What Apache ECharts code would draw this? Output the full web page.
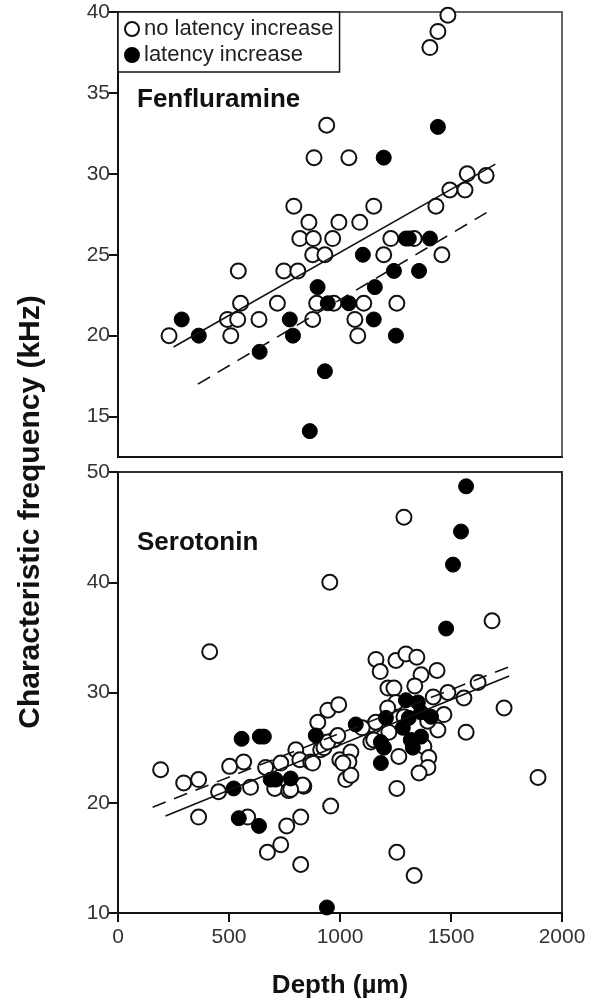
<!DOCTYPE html>
<html style="height: 100%">

<head>
    <meta charset="utf-8" />
    <title>Fenfluramine / Serotonin</title>
    <script src="https://cdn.jsdelivr.net/npm/echarts@6/dist/echarts.min.js"></script>
</head>

<body style="height: 100%; margin: 0; overflow: hidden; background: #fff">
    <div id="container" style="width: 600px; height: 1002px"></div>
    <script>
        // depth (um), characteristic frequency (kHz)
        var fenOpen = [
            [230, 20], [508, 20], [493, 21], [539, 21], [552, 22], [542, 24], [635, 21], [718, 22],
            [747, 24], [810, 24], [877, 21], [895, 22], [972, 22], [819, 26], [880, 26], [967, 26],
            [877, 25], [932, 25], [792, 28], [860, 27], [995, 27], [883, 31], [940, 33], [1040, 31],
            [1486, 39.8], [1441, 38.8], [1405, 37.8], [1152, 28], [1089, 27], [1573, 30], [1658, 29.9],
            [1495, 29], [1563, 29], [1432, 28], [1229, 26], [1334, 26], [1197, 25], [1459, 25],
            [1107, 22], [1256, 22], [1067, 21], [1080, 20]
        ];
        var fenFilled = [
            [287, 21], [364, 20], [638, 19], [774, 21], [788, 20], [932, 17.8], [864, 14.1], [899, 23],
            [945, 22], [1040, 22], [1103, 25], [1243, 24], [1356, 24], [1157, 23], [1152, 21],
            [1252, 20], [1297, 26], [1310, 26], [1405, 26], [1197, 31], [1441, 32.9]
        ];
        var fenSolid = [[250, 19.3], [1700, 30.6]];
        var fenDashed = [[360, 17], [1660, 27.6]];

        var serOpen = [
            [192, 23], [296, 21.8], [363, 22.1], [363, 18.7], [453, 21], [503, 23.3], [566, 23.7],
            [597, 21.4], [584, 18.7], [665, 23.2], [673, 15.5], [733, 16.2], [760, 17.9], [823, 18.7],
            [823, 14.4], [706, 21.3], [769, 21.1], [837, 21.5], [733, 23.6], [801, 24.8], [819, 23.9],
            [868, 23.7], [900, 27.3], [945, 28.4], [994, 28.9], [958, 19.7], [999, 23.9], [1026, 22.1],
            [913, 24.8], [972, 25.7], [954, 40], [413, 33.7], [1288, 45.9], [1685, 36.5], [1162, 33],
            [1181, 31.9], [1252, 32.9], [1297, 33.5], [1346, 33.2], [1365, 31.6], [1437, 32],
            [1216, 30.4], [1243, 30.4], [1486, 30], [1558, 29.5], [1622, 30.9], [1739, 28.6],
            [1568, 26.4], [1892, 22.3], [1256, 21.3], [1256, 15.5], [1334, 13.4], [1152, 27],
            [1139, 25.5], [1049, 24.6], [1040, 23.7], [1049, 22.5], [1013, 23.6], [877, 23.6],
            [832, 21.6], [778, 21.2], [928, 25], [945, 25.5], [990, 26.1], [1252, 29.1], [1468, 28],
            [1441, 26.6], [1288, 27.8], [1220, 26.4], [1378, 25.1], [1400, 24.1], [1396, 23.2],
            [1356, 22.7], [1161, 27.3], [1152, 25.7], [1265, 24.2], [1337, 30.6], [1420, 29.6],
            [1100, 26.8], [1215, 28.6], [1395, 27.4]
        ];
        var serFilled = [
            [557, 25.8], [639, 26], [657, 26], [521, 21.3], [544, 18.6], [635, 17.9], [688, 22.1],
            [778, 22.2], [891, 26.1], [1071, 27.1], [710, 22.1], [941, 10.5], [1568, 48.7],
            [1545, 44.6], [1509, 41.6], [1478, 35.8], [1297, 29.3], [1351, 29.1], [1365, 28.2],
            [1310, 27.7], [1410, 27.8], [1207, 27.7], [1184, 25.5], [1198, 25], [1319, 25.7],
            [1365, 26], [1328, 25], [1184, 23.6], [1283, 26.8]
        ];
        var serSolid = [[214, 18.8], [1762, 31.5]];
        var serDashed = [[156, 19.6], [1770, 32.4]];

        var fenTicks = [15, 20, 25, 30, 35, 40];
        var legendNames = ["no latency increase", "latency increase"];

        var font = "'Liberation Sans', Arial, sans-serif";
        var dom = document.getElementById("container");
        var myChart = echarts.init(dom, null, { renderer: "canvas" });

        var openStyle = { color: "#fff", borderColor: "#111", borderWidth: 2, opacity: 1 };
        var filledStyle = { color: "#000", borderColor: "#000", borderWidth: 1, opacity: 1 };

        let xAxisBase = (idx, showLabels) => ({
            gridIndex: idx,
            type: "value",
            min: 0,
            max: 2000,
            interval: 500,
            axisLine: { show: true, onZero: false, lineStyle: { color: "#111", width: 2 } },
            axisTick: { show: showLabels, length: 9, lineStyle: { color: "#111", width: 2 } },
            axisLabel: {
                show: showLabels, color: "#333", fontSize: 21, fontFamily: font, margin: 14,
                formatter: (v) => String(v),
            },
            splitLine: { show: false },
            name: showLabels ? "Depth (µm)" : "",
            nameLocation: "middle",
            nameGap: 60,
            nameTextStyle: { fontSize: 26, fontWeight: "bold", fontFamily: font, color: "#111" },
        });

        let scatter = (name, idx, data, style) => ({
            type: "scatter",
            name: name,
            xAxisIndex: idx,
            yAxisIndex: idx,
            data: data,
            symbol: "circle",
            symbolSize: 15,
            itemStyle: style,
            z: 3,
        });

        let fitLine = (idx, data, dashed) => ({
            type: "line",
            xAxisIndex: idx,
            yAxisIndex: idx,
            data: data,
            symbol: "none",
            silent: true,
            lineStyle: { color: "#111", width: 1.6, type: dashed ? [14, 9] : "solid" },
            z: 4,
        });

        var option = {
            animation: false,
            backgroundColor: "#fff",
            grid: [
                { left: 118, top: 12, width: 444, height: 445, show: true, borderColor: "#666", borderWidth: 2 },
                { left: 118, top: 472, width: 444, height: 441, show: true, borderColor: "#333", borderWidth: 2 },
            ],
            legend: {
                data: legendNames,
                orient: "vertical",
                left: 118,
                top: 12,
                padding: [6, 6, 6, 6],
                itemGap: 4,
                itemWidth: 14,
                itemHeight: 14,
                borderColor: "#111",
                borderWidth: 1.5,
                backgroundColor: "#fff",
                textStyle: { fontSize: 22, fontFamily: font, color: "#222", padding: [0, 0, 0, 0] },
            },
            xAxis: [xAxisBase(0, false), xAxisBase(1, true)],
            yAxis: [
                {
                    gridIndex: 0,
                    type: "value",
                    min: 12.5,
                    max: 40,
                    axisLine: { show: true, onZero: false, lineStyle: { color: "#111", width: 2 } },
                    axisTick: { show: true, length: 9, customValues: fenTicks, lineStyle: { color: "#111", width: 2 } },
                    axisLabel: { color: "#333", fontSize: 21, fontFamily: font, margin: 8, customValues: fenTicks },
                    splitLine: { show: false },
                },
                {
                    gridIndex: 1,
                    type: "value",
                    min: 10,
                    max: 50,
                    interval: 10,
                    axisLine: { show: true, onZero: false, lineStyle: { color: "#111", width: 2 } },
                    axisTick: { show: true, length: 9, lineStyle: { color: "#111", width: 2 } },
                    axisLabel: { color: "#333", fontSize: 21, fontFamily: font, margin: 8 },
                    splitLine: { show: false },
                },
            ],
            graphic: [
                {
                    type: "text",
                    left: 137,
                    top: 87,
                    style: { text: "Fenfluramine", fontSize: 26, fontWeight: "bold", fontFamily: font, fill: "#111" },
                },
                {
                    type: "text",
                    left: 137,
                    top: 530,
                    style: { text: "Serotonin", fontSize: 26, fontWeight: "bold", fontFamily: font, fill: "#111" },
                },
                {
                    type: "text",
                    x: 31,
                    y: 512,
                    rotation: Math.PI / 2,
                    style: {
                        text: "Characteristic frequency (kHz)",
                        fontSize: 30,
                        fontWeight: "bold",
                        fontFamily: font,
                        fill: "#111",
                        align: "center",
                        verticalAlign: "middle",
                    },
                },
            ],
            series: [
                scatter(legendNames[0], 0, fenOpen, openStyle),
                scatter(legendNames[1], 0, fenFilled, filledStyle),
                fitLine(0, fenSolid, false),
                fitLine(0, fenDashed, true),
                scatter(legendNames[0], 1, serOpen, openStyle),
                scatter(legendNames[1], 1, serFilled, filledStyle),
                fitLine(1, serSolid, false),
                fitLine(1, serDashed, true),
            ],
        };
        myChart.setOption(option);
    </script>
</body>

</html>
